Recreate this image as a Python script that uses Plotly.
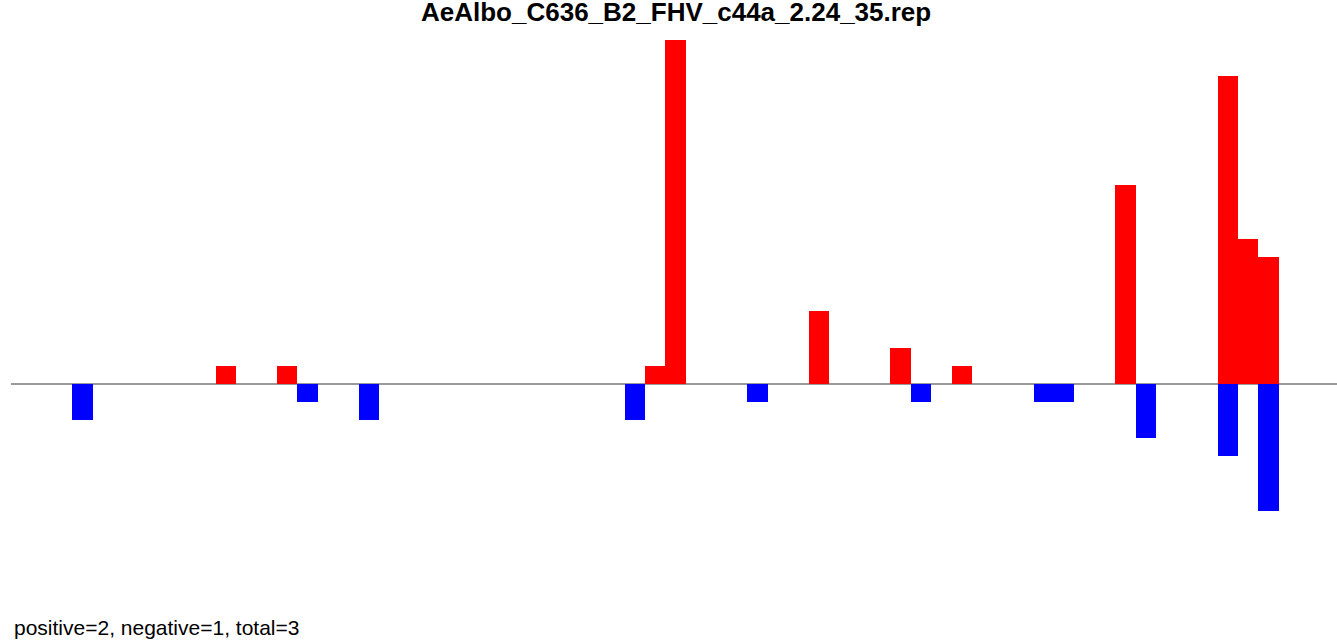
import plotly.graph_objects as go

# Data (bin index -> count)
pos_bins = [10, 13, 31, 32, 39, 43, 46, 54, 59, 60, 61]
pos_vals = [1, 1, 1, 19, 4, 2, 1, 11, 17, 8, 7]
neg_bins = [3, 14, 17, 30, 36, 44, 50, 51, 55, 59, 61]
neg_vals = [-2, -1, -2, -2, -1, -1, -1, -1, -3, -4, -7]

title_text = "AeAlbo_C636_B2_FHV_c44a_2.24_35.rep"
footer_text = "positive=2, negative=1, total=3"

W, H = 1337, 640
ml, mr, mt, mb = 11, 0, 40, 39
plot_w = W - ml - mr
plot_h = H - mt - mb
bin_px = 20.45

fig = go.Figure()
fig.add_trace(go.Bar(x=pos_bins, y=pos_vals, width=1, marker=dict(color="#FF0000", line=dict(width=0)),
                     showlegend=False, hoverinfo="x+y"))
fig.add_trace(go.Bar(x=neg_bins, y=neg_vals, width=1, marker=dict(color="#0000FF", line=dict(width=0)),
                     showlegend=False, hoverinfo="x+y"))

def py(pix):
    # pixel y (from top of page) -> paper coordinate
    return (H - mb - pix) / plot_h

fig.update_layout(
    width=W, height=H,
    margin=dict(l=ml, r=mr, t=mt, b=mb, pad=0),
    paper_bgcolor="white", plot_bgcolor="white",
    barmode="overlay", bargap=0,
    xaxis=dict(range=[-0.5, -0.5 + plot_w / bin_px], showgrid=False, zeroline=False,
               showticklabels=False, ticks="", showline=False, fixedrange=True),
    yaxis=dict(range=[-12, 19], showgrid=False, zeroline=True, zerolinecolor="#999999",
               zerolinewidth=1.5, showticklabels=False, ticks="", showline=False, fixedrange=True),
    font=dict(family="Liberation Sans, Arial, sans-serif", color="black"),
    annotations=[
        dict(text="<b>" + title_text + "</b>", xref="paper", yref="paper",
             x=(676 - ml) / plot_w, y=py(12), xanchor="center", yanchor="middle",
             showarrow=False, font=dict(size=26, color="black")),
        dict(text=footer_text, xref="paper", yref="paper",
             x=(12 - ml) / plot_w, y=py(627), xanchor="left", yanchor="middle",
             showarrow=False, font=dict(size=21, color="black")),
    ],
)

fig.write_html("out.html", config={"displayModeBar": False},
               post_script="document.body.style.margin='0';document.body.style.overflow='hidden';")
